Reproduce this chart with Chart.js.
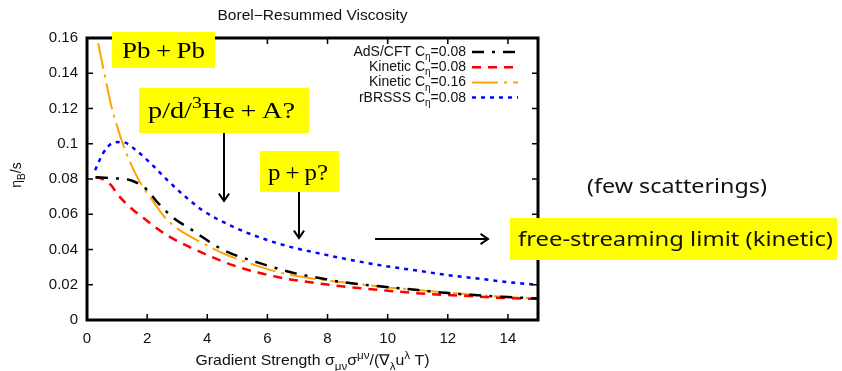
<!DOCTYPE html>
<html>
<head>
<meta charset="utf-8">
<title>Borel-Resummed Viscosity</title>
<script src="https://cdn.jsdelivr.net/npm/chart.js@4"></script>
<style>
  html, body { margin: 0; padding: 0; background: #fff; }
  #wrap { width: 842px; height: 371px; }
</style>
</head>
<body>
<div id="wrap"><canvas id="viscChart" width="842" height="371"></canvas></div>
<script>
// Series: gradient strength vs eta_B/s
const adsX = [0.3, 0.8, 1.5, 2.0, 2.33, 2.87, 3.5, 4.5, 5.8, 6.9, 7.5, 8.5, 9.8, 11, 12, 13, 14, 15];
const adsY = [0.081, 0.0805, 0.079, 0.0738, 0.067, 0.058, 0.051, 0.040, 0.032, 0.0266, 0.0245, 0.0215, 0.019, 0.017, 0.0153, 0.014, 0.013, 0.0122];

const kin08X = [0.27, 0.43, 0.8, 1.03, 1.43, 1.87, 2.67, 3.77, 4.87, 6.3, 8.1, 10, 11.3, 12.5, 13.8, 15];
const kin08Y = [0.081, 0.0805, 0.0765, 0.071, 0.064, 0.058, 0.048, 0.0386, 0.031, 0.0245, 0.0199, 0.0166, 0.0148, 0.0138, 0.0125, 0.012];

const kin16X = [0.37, 0.6, 0.8, 1.0, 1.17, 1.5, 1.77, 2.17, 2.6, 3.0, 3.8, 4.5, 5.1, 6.4, 7.5, 9, 10, 11, 12, 13, 14, 15];
const kin16Y = [0.157, 0.138, 0.122, 0.110, 0.101, 0.087, 0.078, 0.068, 0.058, 0.052, 0.044, 0.038, 0.034, 0.027, 0.0235, 0.0205, 0.0185, 0.017, 0.0155, 0.0142, 0.013, 0.0122];

const brsssX = [0.27, 0.53, 0.87, 1.17, 1.7, 2.17, 2.67, 3.27, 3.83, 4.87, 5.8, 6.87, 7.5, 8.5, 9.77, 11, 12, 13, 14, 15];
const brsssY = [0.085, 0.0945, 0.1005, 0.101, 0.0953, 0.088, 0.0794, 0.070, 0.0624, 0.0528, 0.0465, 0.041, 0.0386, 0.035, 0.031, 0.028, 0.0255, 0.0235, 0.0215, 0.0199];

const seriesNames = ['AdS/CFT', 'Kinetic', 'Kinetic', 'rBRSSS'];
const etaCoeffs = [0.08, 0.08, 0.16, 0.08];
const seriesColors = ['#000000', '#ff0000', '#ffa500', '#0000ff'];
const seriesDashes = [[12, 8, 3, 8], [9, 7], [26, 6, 3, 6], [4, 5]];

const xTicks = { min: 0, max: 15, step: 2 };
const yTicks = { min: 0, max: 0.16, step: 0.02 };

const SANS = '"Liberation Sans", Arial, sans-serif';
const SERIF = '"Liberation Serif", "DejaVu Serif", serif';
const SLIDE_SANS = '"Noto Sans", "Open Sans", sans-serif';

const toPoints = (xs, ys) => xs.map((x, i) => ({ x, y: ys[i] }));

const seriesXY = [[adsX, adsY], [kin08X, kin08Y], [kin16X, kin16Y], [brsssX, brsssY]];

const datasets = seriesXY.map(([xs, ys], i) => ({
  label: `${seriesNames[i]} C_eta=${etaCoeffs[i].toFixed(2)}`,
  data: toPoints(xs, ys),
  borderColor: seriesColors[i],
  borderDash: seriesDashes[i],
  borderWidth: i === 2 ? 2 : 2.5,
  fill: false
}));

// Rich text: parts are [text, kind] with kind 'n', 'sub' or 'sup'
function richWidth(ctx, parts, size, family) {
  return parts.reduce((w, [t, k]) => {
    ctx.font = `${k === 'n' ? size : Math.round(size * 0.7)}px ${family}`;
    return w + ctx.measureText(t).width;
  }, 0);
}

function drawRich(ctx, parts, x, y, size, family, align = 'left', fitWidth = null) {
  const natural = richWidth(ctx, parts, size, family);
  const sx = fitWidth ? fitWidth / natural : 1;
  const total = natural * sx;
  let x0 = x;
  if (align === 'center') x0 = x - total / 2;
  else if (align === 'right') x0 = x - total;
  ctx.save();
  ctx.translate(x0, y);
  ctx.scale(sx, 1);
  ctx.textBaseline = 'alphabetic';
  ctx.textAlign = 'left';
  let cx = 0;
  parts.forEach(([t, k]) => {
    const s = k === 'n' ? size : Math.round(size * 0.7);
    const dy = k === 'sub' ? size * 0.3 : k === 'sup' ? -size * 0.42 : 0;
    ctx.font = `${s}px ${family}`;
    ctx.fillText(t, cx, dy);
    cx += ctx.measureText(t).width;
  });
  ctx.restore();
}

function arrow(ctx, x1, y1, x2, y2) {
  const ang = Math.atan2(y2 - y1, x2 - x1);
  const len = 9, spread = 0.6;
  ctx.beginPath();
  ctx.moveTo(x1, y1);
  ctx.lineTo(x2, y2);
  ctx.moveTo(x2 - len * Math.cos(ang - spread), y2 - len * Math.sin(ang - spread));
  ctx.lineTo(x2, y2);
  ctx.lineTo(x2 - len * Math.cos(ang + spread), y2 - len * Math.sin(ang + spread));
  ctx.stroke();
}

function yellowBox(ctx, x, y, w, h) {
  ctx.fillStyle = '#ffff00';
  ctx.fillRect(x, y, w, h);
}

// Frame, inward ticks, titles, key and slide notes
const decorPlugin = {
  id: 'decor',
  afterDraw(chart) {
    const { ctx, chartArea: a, scales } = chart;
    const tickLen = 6;
    ctx.save();
    ctx.strokeStyle = '#000';
    ctx.setLineDash([]);

    ctx.lineWidth = 1.5;
    ctx.beginPath();
    scales.x.ticks.forEach(t => {
      const px = scales.x.getPixelForValue(t.value);
      ctx.moveTo(px, a.bottom); ctx.lineTo(px, a.bottom - tickLen);
      ctx.moveTo(px, a.top); ctx.lineTo(px, a.top + tickLen);
    });
    scales.y.ticks.forEach(t => {
      const py = scales.y.getPixelForValue(t.value);
      ctx.moveTo(a.left, py); ctx.lineTo(a.left + tickLen, py);
      ctx.moveTo(a.right, py); ctx.lineTo(a.right - tickLen, py);
    });
    ctx.stroke();

    ctx.lineWidth = 3;
    ctx.strokeRect(a.left, a.top, a.right - a.left, a.bottom - a.top);

    ctx.fillStyle = '#111';
    drawRich(ctx, [['Borel\u2212Resummed Viscosity', 'n']], (a.left + a.right) / 2, 20, 14, SANS, 'center', 190);

    drawRich(ctx, [
      ['Gradient Strength \u03c3', 'n'], ['\u03bc\u03bd', 'sub'], ['\u03c3', 'n'], ['\u03bc\u03bd', 'sup'],
      ['/(\u2207', 'n'], ['\u03bb', 'sub'], ['u', 'n'], ['\u03bb', 'sup'], [' T)', 'n']
    ], (a.left + a.right) / 2, 365, 15, SANS, 'center', 234);

    ctx.save();
    ctx.translate(21, 175);
    ctx.rotate(-Math.PI / 2);
    drawRich(ctx, [['\u03b7', 'n'], ['B', 'sub'], ['/s', 'n']], 0, 0, 14, SANS, 'center');
    ctx.restore();

    // key, text right-aligned with a line sample after it
    chart.data.datasets.forEach((ds, i) => {
      const rowY = 52 + 15.2 * i;
      ctx.fillStyle = '#111';
      drawRich(ctx, [[`${seriesNames[i]} C`, 'n'], ['\u03b7', 'sub'], [`=${etaCoeffs[i].toFixed(2)}`, 'n']],
        466, rowY + 4, 14, SANS, 'right');
      ctx.save();
      ctx.strokeStyle = ds.borderColor;
      ctx.lineWidth = ds.borderWidth;
      ctx.setLineDash(ds.borderDash);
      ctx.beginPath();
      ctx.moveTo(472, rowY);
      ctx.lineTo(518, rowY);
      ctx.stroke();
      ctx.restore();
    });

    // slide notes
    yellowBox(ctx, 112, 32, 103, 36);
    yellowBox(ctx, 139, 88, 170, 45);
    yellowBox(ctx, 260, 151, 79, 41);
    yellowBox(ctx, 510, 218, 327, 42);

    ctx.fillStyle = '#000';
    drawRich(ctx, [['Pb\u2009+\u2009Pb', 'n']], 122, 58, 23, SERIF, 'left', 83);
    drawRich(ctx, [['p/d/', 'n'], ['3', 'sup'], ['He\u2009+\u2009A?', 'n']], 148, 118, 23, SERIF, 'left', 147);
    drawRich(ctx, [['p\u2009+\u2009p?', 'n']], 268, 180, 23, SERIF, 'left', 60);

    ctx.fillStyle = '#111';
    drawRich(ctx, [['(few scatterings)', 'n']], 587, 193, 20, SLIDE_SANS, 'left', 180);
    drawRich(ctx, [['free-streaming limit (kinetic)', 'n']], 518, 246, 20, SLIDE_SANS, 'left', 315);

    ctx.strokeStyle = '#000';
    ctx.lineWidth = 2;
    arrow(ctx, 224, 133, 224, 201);
    arrow(ctx, 299, 192, 299, 238);
    arrow(ctx, 375, 239, 488, 239);

    ctx.restore();
  }
};

const tickFont = { family: SANS, size: 15 };
const fmtTick = v => String(+v.toFixed(2));

new Chart(document.getElementById('viscChart'), {
  type: 'line',
  data: { datasets },
  options: {
    responsive: false,
    animation: false,
    devicePixelRatio: 1,
    layout: { padding: { top: 38, right: 304, left: 0, bottom: 0 } },
    plugins: {
      legend: { display: false },
      title: { display: false },
      tooltip: { enabled: false }
    },
    elements: {
      point: { radius: 0 },
      line: { cubicInterpolationMode: 'monotone' }
    },
    scales: {
      x: {
        type: 'linear',
        min: xTicks.min,
        max: xTicks.max,
        grid: { display: false, drawTicks: false },
        border: { display: false },
        ticks: { stepSize: xTicks.step, includeBounds: false, padding: 10, color: '#111', font: tickFont, callback: fmtTick },
        afterFit: s => { s.height = 51; }
      },
      y: {
        type: 'linear',
        min: yTicks.min,
        max: yTicks.max,
        grid: { display: false, drawTicks: false },
        border: { display: false },
        ticks: { stepSize: yTicks.step, padding: 9, color: '#111', font: tickFont, callback: fmtTick },
        afterFit: s => { s.width = 87; }
      }
    }
  },
  plugins: [decorPlugin]
});
</script>
</body>
</html>
